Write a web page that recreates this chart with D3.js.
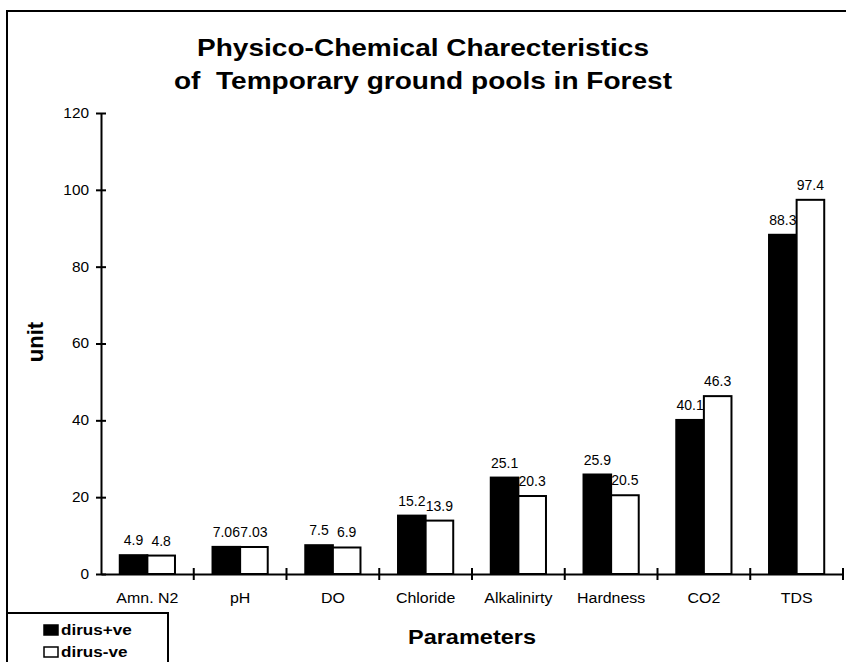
<!DOCTYPE html>
<html>
<head>
<meta charset="utf-8">
<script src="https://cdn.jsdelivr.net/npm/d3@7"></script>
<style>
  body { margin: 0; background: #fff; }
  text { font-family: "Liberation Sans", Arial, sans-serif; }
</style>
</head>
<body>
<script>
const categories = ["Amn. N2", "pH", "DO", "Chloride", "Alkalinirty", "Hardness", "CO2", "TDS"];
const seriesNames = ["dirus+ve", "dirus-ve"];
const dirusPos = [4.9, 7.06, 7.5, 15.2, 25.1, 25.9, 40.1, 88.3];
const dirusNeg = [4.8, 7.03, 6.9, 13.9, 20.3, 20.5, 46.3, 97.4];
const labelsPos = ["4.9", "7.06", "7.5", "15.2", "25.1", "25.9", "40.1", "88.3"];
const labelsNeg = ["4.8", "7.03", "6.9", "13.9", "20.3", "20.5", "46.3", "97.4"];
const yTicks = [0, 20, 40, 60, 80, 100, 120];

var width = 846,
  height = 662;

// the original's lettering is slightly wider than Liberation Sans
const wide = 1.1;

var svg = d3
  .select("body")
  .append("svg")
  .attr("width", width)
  .attr("height", height);

// outer frame (runs off the right and bottom edge like the original)
svg
  .append("rect")
  .attr("x", 7)
  .attr("y", 11)
  .attr("width", 900)
  .attr("height", 700)
  .style("fill", "none")
  .style("stroke", "black")
  .style("stroke-width", 2);

var x0 = d3.scaleBand().domain(categories).range([101, 843]);
var x1 = d3
  .scaleBand()
  .domain(seriesNames)
  .range([0, x0.bandwidth()])
  .paddingOuter(0.68);
var yScale = d3.scaleLinear().domain([0, 120]).range([574, 113]);

var rows = categories.map((c, i) => ({
  cat: c,
  vals: [
    { s: seriesNames[0], v: dirusPos[i], label: labelsPos[i] },
    { s: seriesNames[1], v: dirusNeg[i], label: labelsNeg[i] },
  ],
}));

var groups = svg
  .selectAll(".grp")
  .data(rows)
  .enter()
  .append("g")
  .attr("class", "grp")
  .attr("transform", (d) => `translate(${x0(d.cat)},0)`);

// labels first, bars on top (as in the original some labels get clipped)
groups
  .selectAll(".lbl")
  .data((d) => d.vals)
  .enter()
  .append("text")
  .attr("class", "lbl")
  .attr("x", (d) => x1(d.s) + x1.bandwidth() / 2)
  .attr("y", (d) => yScale(d.v) - 10)
  .attr("text-anchor", "middle")
  .style("font-size", "14px")
  .text((d) => d.label);

groups
  .selectAll(".bar")
  .data((d) => d.vals)
  .enter()
  .append("rect")
  .attr("class", "bar")
  .attr("x", (d) => x1(d.s))
  .attr("y", (d) => yScale(d.v))
  .attr("width", x1.bandwidth())
  .attr("height", (d) => yScale(0) - yScale(d.v))
  .style("fill", (d, i) => (i === 0 ? "black" : "white"))
  .style("stroke", "black")
  .style("stroke-width", 2);

// y axis
var yAxis = d3.axisLeft(yScale).tickValues(yTicks).tickSizeInner(5).tickSizeOuter(0).tickPadding(6);
var gy = svg.append("g").attr("transform", "translate(101,0)").call(yAxis);
gy.select(".domain").style("stroke-width", 2);
gy.selectAll(".tick line").attr("x2", 5).attr("x1", -5).style("stroke-width", 2);
gy.selectAll(".tick text")
  .style("font-size", "14px")
  .style("font-family", "Liberation Sans, Arial, sans-serif")
  .attr("x", -12 / wide)
  .attr("transform", `scale(${wide},1)`);

// x axis
var xAxis = d3.axisBottom(x0).tickSize(0).tickPadding(0);
var gx = svg.append("g").attr("transform", "translate(0,574)").call(xAxis);
gx.select(".domain").style("stroke-width", 2);
gx.selectAll(".tick text")
  .attr("y", 24)
  .attr("dy", "0.32em")
  .attr("transform", `scale(${wide},1)`)
  .style("font-size", "14.5px")
  .style("font-family", "Liberation Sans, Arial, sans-serif");
// separators between categories
gx.selectAll(".sep")
  .data(categories)
  .enter()
  .append("line")
  .attr("class", "sep")
  .attr("x1", (d) => x0(d) + x0.bandwidth())
  .attr("x2", (d) => x0(d) + x0.bandwidth())
  .attr("y1", -6)
  .attr("y2", 6)
  .style("stroke", "black")
  .style("stroke-width", 2);

// title
svg
  .append("g")
  .attr("transform", "translate(423,0) scale(1.22,1)")
  .append("text")
  .attr("text-anchor", "middle")
  .style("font-weight", "bold")
  .style("font-size", "23px")
  .selectAll("tspan")
  .data(["Physico-Chemical Charecteristics", "of\u00a0 Temporary ground pools in Forest"])
  .enter()
  .append("tspan")
  .attr("x", 0)
  .attr("y", (d, i) => 56 + i * 33)
  .text((d) => d);

svg
  .append("text")
  .text("unit")
  .attr("transform", "translate(43,342) rotate(-90)")
  .attr("text-anchor", "middle")
  .style("font-weight", "bold")
  .style("font-size", "22px");

svg
  .append("text")
  .text("Parameters")
  .attr("transform", "translate(472,644) scale(1.12,1)")
  .attr("text-anchor", "middle")
  .style("font-weight", "bold")
  .style("font-size", "21px");

// legend
svg
  .append("rect")
  .attr("x", 7)
  .attr("y", 613)
  .attr("width", 161)
  .attr("height", 80)
  .style("fill", "white")
  .style("stroke", "black")
  .style("stroke-width", 2);

var leg = svg
  .selectAll(".leg")
  .data(seriesNames)
  .enter()
  .append("g")
  .attr("class", "leg")
  .attr("transform", (d, i) => `translate(44,${625 + i * 22})`);

leg
  .append("rect")
  .attr("width", 14)
  .attr("height", 10)
  .style("fill", (d, i) => (i === 0 ? "black" : "white"))
  .style("stroke", "black")
  .style("stroke-width", 1.5);

leg
  .append("text")
  .attr("transform", "translate(17,10) scale(1.14,1)")
  .style("font-weight", "bold")
  .style("font-size", "15px")
  .text((d) => d);
</script>
</body>
</html>
